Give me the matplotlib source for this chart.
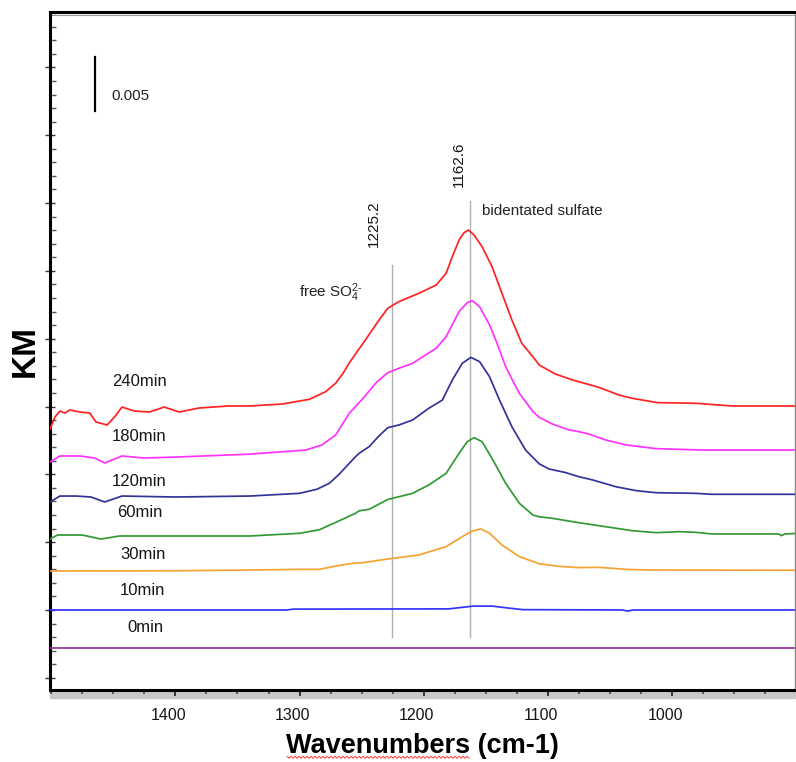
import numpy as np
import matplotlib
matplotlib.use("Agg")
import matplotlib.pyplot as plt
from matplotlib.ticker import MultipleLocator, FixedLocator, NullFormatter
from matplotlib.patches import Rectangle
from matplotlib.lines import Line2D
import matplotlib.transforms as mtransforms

plt.rcParams['font.family'] = ['Liberation Sans', 'DejaVu Sans']
plt.rcParams['mathtext.fontset'] = 'custom'
plt.rcParams['mathtext.rm'] = 'Liberation Sans'
plt.rcParams['mathtext.it'] = 'Liberation Sans'

# ---------------- data (KM values in units of 1e-3, stacked as displayed) ----------------
labels = ["0min", "10min", "30min", "60min", "120min", "180min", "240min"]
colors = ["#993399", "#3333ff", "#f5a231", "#339933", "#333399", "#ff33ff", "#ff2222"]

wn_0 = [1501, 1300, 1100, 901]
km_0 = [0.0, 0.0, 0.0, 0.0]

wn_10 = [1501, 1310, 1305, 1180, 1170, 1160, 1145, 1132, 1120, 1040, 1036, 1031, 901]
km_10 = [3.52, 3.52, 3.60, 3.62, 3.75, 3.88, 3.88, 3.70, 3.55, 3.52, 3.42, 3.52, 3.52]

wn_30 = [1501, 1400, 1340, 1300, 1284, 1271, 1257, 1249, 1229, 1204, 1182, 1169, 1161,
         1154, 1147, 1137, 1123, 1107, 1091, 1075, 1059, 1037, 1019, 901]
km_30 = [7.13, 7.15, 7.22, 7.28, 7.28, 7.59, 7.84, 7.90, 8.24, 8.61, 9.38, 10.31, 10.83,
         11.02, 10.62, 9.54, 8.46, 7.80, 7.56, 7.44, 7.47, 7.28, 7.22, 7.20]

wn_60 = [1501, 1495, 1475, 1460, 1445, 1340, 1300, 1284, 1268, 1255, 1252, 1244, 1229,
         1209, 1196, 1182, 1171.5, 1165, 1159.5, 1153, 1145, 1134, 1123, 1112, 1107,
         1096.5, 1075, 1053.5, 1032, 1013, 994.5, 981, 968, 914, 912, 909, 901]
km_60 = [10.09, 10.46, 10.46, 10.09, 10.37, 10.37, 10.62, 10.95, 11.78, 12.47, 12.70, 12.84,
         13.75, 14.32, 15.09, 16.17, 18.03, 19.10, 19.48, 19.10, 17.56, 15.25, 13.40, 12.31,
         12.15, 12.01, 11.60, 11.23, 10.86, 10.68, 10.77, 10.71, 10.56, 10.56, 10.40, 10.56,
         10.60]

wn_120 = [1501, 1493, 1480, 1468, 1457, 1443, 1400, 1340, 1300, 1286, 1276, 1268, 1265,
          1255, 1252, 1244, 1236, 1229, 1220, 1209, 1196, 1185, 1177, 1169, 1162, 1155,
          1147, 1139, 1129, 1118, 1107, 1099, 1086, 1075, 1064, 1045.5, 1029, 1013, 981,
          968, 901]
km_120 = [13.52, 14.07, 14.07, 13.98, 13.52, 14.07, 13.98, 14.07, 14.32, 14.70, 15.25, 16.10,
          16.48, 17.71, 18.03, 18.64, 19.64, 20.40, 20.65, 21.11, 22.19, 22.96, 24.81, 26.36,
          26.91, 26.51, 25.12, 22.96, 20.49, 18.33, 17.05, 16.57, 16.25, 15.86, 15.56, 14.94,
          14.57, 14.38, 14.32, 14.23, 14.23]

wn_180 = [1501, 1493, 1477, 1465, 1457, 1443, 1425, 1397, 1340, 1295, 1282, 1271, 1260,
          1249, 1238, 1229, 1220, 1209, 1190, 1182, 1171.5, 1165, 1161, 1155, 1147, 1142,
          1139, 1134, 1128.6, 1123, 1112, 1107, 1096.5, 1083, 1075, 1067, 1053.5, 1037,
          1013, 976, 901]
km_180 = [17.22, 17.78, 17.78, 17.59, 17.13, 17.78, 17.59, 17.69, 17.95, 18.33, 18.80, 19.72,
          21.73, 23.10, 24.60, 25.49, 25.90, 26.36, 27.75, 28.82, 31.16, 31.98, 32.16, 31.60,
          29.91, 28.52, 27.59, 26.05, 24.81, 23.58, 21.88, 21.36, 20.74, 20.19, 20.03, 19.81,
          19.26, 18.80, 18.46, 18.33, 18.33]

wn_240 = [1501, 1497, 1493, 1489, 1485, 1477, 1469, 1464, 1455, 1449, 1443, 1433, 1421,
          1409, 1397, 1381, 1357, 1340, 1314, 1292, 1279, 1271, 1265, 1260, 1247, 1236,
          1229, 1220, 1204, 1190, 1182, 1177, 1171.5, 1167.5, 1164, 1159.5, 1153, 1145,
          1137, 1129, 1121, 1110, 1107, 1094, 1080, 1059, 1043, 1032, 1012, 981, 952, 901]
km_240 = [20.28, 21.39, 21.94, 21.76, 22.04, 21.85, 21.76, 20.93, 20.65, 21.39, 22.31, 21.94,
          21.85, 22.31, 21.85, 22.22, 22.41, 22.41, 22.59, 23.03, 23.73, 24.51, 25.43, 26.40,
          28.52, 30.37, 31.45, 32.07, 32.84, 33.61, 34.69, 36.23, 37.78, 38.46, 38.70, 38.24,
          37.16, 35.31, 32.84, 30.37, 28.21, 26.67, 26.20, 25.37, 24.81, 24.14, 23.43, 23.12,
          22.72, 22.66, 22.41, 22.41]

series_wn = [wn_0, wn_10, wn_30, wn_60, wn_120, wn_180, wn_240]
series_km = [km_0, km_10, km_30, km_60, km_120, km_180, km_240]

# marker lines (wavenumber, y-range in 1e-3 KM)
peak_wn = [1225.2, 1162.6]
peak_text = ["1225.2", "1162.6"]
peak_ymin = [1.02, 1.02]
peak_ymax = [35.46, 41.39]

scale_bar = 5.0          # 0.005 KM
scale_text = "0.005"
x_ticks = [1400, 1300, 1200, 1100, 1000]
x_tick_labels = ["1400", "1300", "1200", "1100", "1000"]

# ---------------- figure ----------------
W, H = 796, 762
fig = plt.figure(figsize=(W / 100, H / 100), dpi=100)
ax = fig.add_axes([50 / W, (H - 690) / H, 745 / W, 678 / H])

for wn, km, c in zip(series_wn, series_km, colors):
    ax.plot(wn, np.array(km), color=c, lw=1.25, solid_joinstyle='round', zorder=3)

for w, lo, hi in zip(peak_wn, peak_ymin, peak_ymax):
    ax.plot([w, w], [lo, hi], color="#b0b0b0", lw=1.0, zorder=2)

ax.set_xlim(1501, 901)
ax.set_ylim(-3.89, 58.89)

# time labels
lab_x = [1424, 1426.5, 1426.5, 1429, 1429, 1429, 1429]
lab_y = [1.94, 5.28, 8.70, 12.59, 15.37, 19.54, 24.72]
for t, x, y in zip(labels, lab_x, lab_y):
    ax.text(x, y, t, fontsize=12, color="#151515", ha='center', va='center', zorder=4)

# peak labels
ax.text(peak_wn[0] + 15, 39.26, peak_text[0], rotation=90, fontsize=11, color="#151515",
        ha='center', va='center')
ax.text(peak_wn[1] + 9, 44.81, peak_text[1], rotation=90, fontsize=11, color="#151515",
        ha='center', va='center')
ax.text(1300.2, 32.87, r"free SO$_{\mathrm{4}}^{\mathrm{2\text{-}}}$", fontsize=11, color="#222222",
        ha='left', va='center')
ax.text(1153, 40.46, "bidentated sulfate", fontsize=11, color="#222222", ha='left', va='center')

# scale bar
ax.plot([1465, 1465], [49.72, 49.72 + scale_bar], color='black', lw=1.6)
ax.text(1451.5, 51.1, scale_text, fontsize=11, color="#222222", ha='left', va='center')

# ticks
ax.xaxis.set_major_locator(FixedLocator(x_ticks))
ax.set_xticklabels(x_tick_labels)
ax.xaxis.set_minor_locator(MultipleLocator(25))
ax.tick_params(axis='x', which='major', direction='out', length=4, width=1.4, color='#333333',
               labelsize=11.5, labelcolor='#151515', pad=9, top=False)
ax.tick_params(axis='x', which='minor', direction='out', length=3, width=1.2, color='#444444',
               top=False)
ax.yaxis.set_major_locator(MultipleLocator(6.28, offset=3.52))
ax.yaxis.set_minor_locator(MultipleLocator(1.256, offset=3.52))
ax.yaxis.set_major_formatter(NullFormatter())
ax.tick_params(axis='y', which='major', direction='inout', length=7, width=1.0, color='#333333')
ax.tick_params(axis='y', which='minor', direction='in', length=4.5, width=1.0, color='#555555')

for s in ['left', 'top', 'bottom']:
    ax.spines[s].set_linewidth(2.2)
    ax.spines[s].set_color('black')
ax.spines['right'].set_linewidth(1.0)
ax.spines['right'].set_color('#888888')

# shift tick labels slightly left as in reference
offset = mtransforms.ScaledTranslation(-7 / 100, 0, fig.dpi_scale_trans)
for lbl in ax.get_xticklabels():
    lbl.set_transform(lbl.get_transform() + offset)

# grey band under bottom spine and under top spine
fig.patches.append(Rectangle((50 / W, (H - 698) / H), 745 / W, 7 / H, transform=fig.transFigure,
                             color='#c8c8c8', zorder=-1))
top_tr = mtransforms.offset_copy(ax.transAxes, fig=fig, y=-2.5, units='dots')
ax.add_line(Line2D([0, 1], [1, 1], transform=top_tr, color='#999999', lw=0.8, clip_on=False))

ax.set_xlabel("Wavenumbers (cm-1)", fontsize=19.5, fontweight='bold', labelpad=7)
ax.set_ylabel("KM", fontsize=24, fontweight='bold', labelpad=0)

# red spell-check squiggle under "Wavenumbers"
fig.canvas.draw()
r = fig.canvas.get_renderer()
bb = ax.xaxis.label.get_window_extent(r)
tmp = fig.text(0, 0, "Wavenumbers", fontsize=19.5, fontweight='bold')
wbb = tmp.get_window_extent(r)
tmp.remove()
x0 = bb.x0 + 1
x1 = bb.x0 + wbb.width
xs = np.arange(x0, x1, 2.0)
ys = bb.y0 + 1.5 + np.where(np.arange(len(xs)) % 2 == 0, 1.0, -1.0)
fig.add_artist(Line2D(xs / W, ys / H, transform=fig.transFigure, color='#ff3b3b', lw=0.7))

fig.savefig("out.png", dpi=100)
